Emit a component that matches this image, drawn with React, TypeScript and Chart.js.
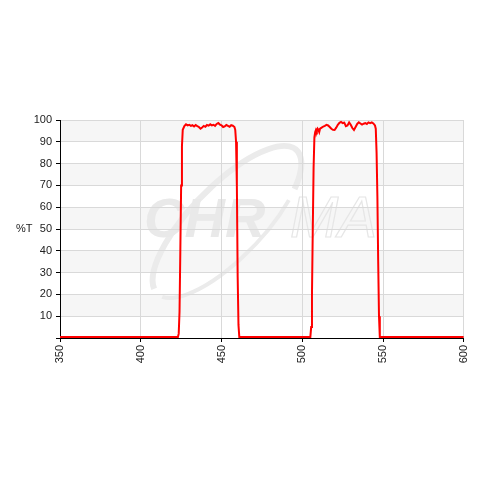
import React, { useEffect, useRef } from "react";
import { Chart, registerables } from "chart.js";

Chart.register(...registerables);

// Wavelength (nm) and transmission (%T)
const wavelengths: number[] = [
  350, 423, 423.5, 424, 424.5, 425, 425.5, 426,
  427, 428, 429, 430, 431, 432, 433, 434, 435, 436, 437, 438, 439, 440,
  441, 442, 443, 444, 445, 446, 447, 448, 449, 450, 451, 452, 453, 454,
  455, 456, 457, 458, 458.5, 459, 459.5, 460, 460.5, 461,
  505, 505.5, 506, 506.5, 507, 507.5, 508, 508.5, 509, 509.5, 510, 510.5,
  511, 512, 513, 514, 515, 516, 517, 518, 519, 520, 521, 522, 523, 524,
  525, 526, 527, 528, 529, 530, 531, 532, 533, 534, 535, 536, 537, 538,
  539, 540, 541, 542, 543, 544, 545, 545.5, 546, 546.5, 547, 547.5, 548,
  600,
];
const transmission: number[] = [
  0.5, 0.5, 2, 12, 40, 70, 88, 95.5,
  97.2, 98.0, 97.5, 97.8, 97.3, 97.6, 97.0, 97.7, 97.2, 96.8, 96.0, 96.6, 97.3, 96.9,
  97.7, 97.4, 98.0, 97.5, 97.8, 97.3, 98.2, 98.6, 97.9, 97.6, 96.8, 97.1, 97.7, 97.3,
  96.9, 97.6, 97.4, 96.8, 95.5, 90, 70, 28, 6, 0.5,
  0.5, 5, 20, 50, 78, 92, 94.5, 95.5, 94.8, 96, 95.5, 94.5,
  96, 96.5, 97, 97.3, 97.8, 97.5, 96.8, 96, 95.5, 95.4, 96.5, 97.8, 98.7, 99.1,
  98.6, 98.8, 97.2, 97.5, 98.9, 97.8, 96.3, 95.4, 96.8, 98.2, 98.9, 98.4, 97.9, 98.3,
  98.6, 98.2, 98.9, 98.6, 98.9, 98.4, 97.5, 96, 85, 65, 35, 10, 0.5,
  0.5,
];
const xTicks: number[] = [350, 400, 450, 500, 550, 600];
const yTicks: number[] = [10, 20, 30, 40, 50, 60, 70, 80, 90, 100];
const shadedBands: [number, number][] = [
  [90, 100],
  [70, 80],
  [50, 60],
  [30, 40],
  [10, 20],
];
const yLabel = "%T";
const watermarkFilled = "CHR";
const watermarkOutlined = "MA";

const FONT = "'Liberation Sans', Arial, sans-serif";

const backgroundPlugin = {
  id: "bgBandsAndWatermark",
  beforeDraw(chart: any) {
    const { ctx, chartArea, scales } = chart;
    const y = scales.y;
    ctx.save();
    ctx.fillStyle = "#f6f6f6";
    for (const [lo, hi] of shadedBands) {
      const top = y.getPixelForValue(hi);
      const bot = y.getPixelForValue(lo);
      ctx.fillRect(chartArea.left, top, chartArea.right - chartArea.left, bot - top);
    }
    // watermark
    const cx = chartArea.left;
    const cy = chartArea.top;
    // swoosh ellipse
    ctx.save();
    ctx.translate(cx + 167, cy + 102);
    ctx.rotate(-0.8);
    ctx.strokeStyle = "#ebebeb";
    ctx.lineWidth = 6;
    ctx.beginPath();
    ctx.ellipse(0, 0, 100, 36, 0, Math.PI * 1.05, Math.PI * 2.25);
    ctx.stroke();
    ctx.lineWidth = 4;
    ctx.beginPath();
    ctx.ellipse(0, 0, 100, 36, 0, Math.PI * 0.3, Math.PI * 0.95);
    ctx.stroke();
    ctx.restore();

    ctx.font = `italic bold 56px ${FONT}`;
    ctx.textBaseline = "alphabetic";
    ctx.fillStyle = "#e9e9e9";
    ctx.fillText(watermarkFilled, cx + 84, cy + 117);
    ctx.font = `italic 58px ${FONT}`;
    ctx.strokeStyle = "#e6e6e6";
    ctx.lineWidth = 1.2;
    ctx.strokeText(watermarkOutlined, cx + 230, cy + 117);
    ctx.restore();
  },
  afterDraw(chart: any) {
    const { ctx, chartArea } = chart;
    ctx.save();
    ctx.font = `11px ${FONT}`;
    ctx.fillStyle = "#222";
    ctx.textAlign = "left";
    ctx.textBaseline = "middle";
    ctx.fillText(yLabel, 16, (chartArea.top + chartArea.bottom) / 2);
    ctx.restore();
  },
};

export default function App() {
  const ref = useRef<HTMLCanvasElement | null>(null);
  useEffect(() => {
    document.body.style.margin = "0";
    if (!ref.current) return;
    const chart = new Chart(ref.current, {
      type: "line",
      data: {
        datasets: [
          {
            data: wavelengths.map((w, i) => ({ x: w, y: transmission[i] })),
            borderColor: "#ff0000",
            borderWidth: 2,
            pointRadius: 0,
            tension: 0,
            fill: false,
          },
        ],
      },
      options: {
        animation: false,
        responsive: false,
        events: [],
        layout: { padding: { left: 0, right: 14, top: 120, bottom: 0 } },
        plugins: { legend: { display: false }, tooltip: { enabled: false } },
        scales: {
          x: {
            type: "linear",
            min: 350,
            max: 600,
            afterBuildTicks: (s: any) => {
              s.ticks = xTicks.map((v) => ({ value: v }));
            },
            afterFit: (s: any) => {
              s.height = 142;
            },
            ticks: {
              maxRotation: 90,
              minRotation: 90,
              autoSkip: false,
              color: "#222",
              font: { family: FONT, size: 11 },
              padding: 3,
            },
            grid: { color: "#d9d9d9", tickColor: "#000", tickLength: 4 },
            border: { color: "#000", width: 1 },
          },
          y: {
            type: "linear",
            min: 0,
            max: 100,
            afterBuildTicks: (s: any) => {
              s.ticks = [0, ...yTicks].map((v) => ({ value: v }));
            },
            afterFit: (s: any) => {
              s.width = 60;
            },
            ticks: {
              autoSkip: false,
              color: "#222",
              font: { family: FONT, size: 11 },
              padding: 4,
              callback: (v: any) => (v === 0 ? "" : String(v)),
            },
            grid: { color: "#d9d9d9", tickColor: "#000", tickLength: 4 },
            border: { color: "#000", width: 1 },
          },
        },
      },
      plugins: [backgroundPlugin],
    } as any);
    return () => chart.destroy();
  }, []);
  return (
    <div style={{ width: 480, height: 480, background: "#fff" }}>
      <canvas ref={ref} width={480} height={480} style={{ display: "block" }} />
    </div>
  );
}
